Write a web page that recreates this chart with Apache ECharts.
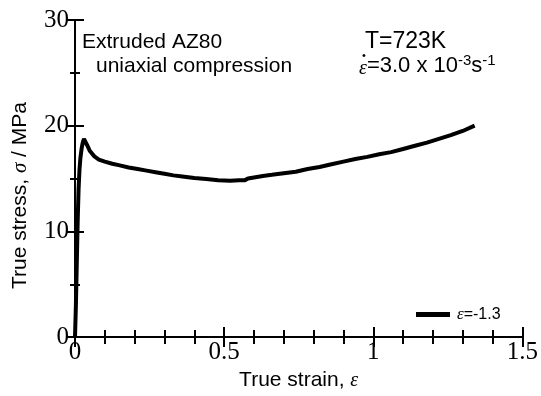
<!DOCTYPE html>
<html>
<head>
<meta charset="utf-8">
<script src="https://cdn.jsdelivr.net/npm/echarts@6/dist/echarts.min.js"></script>
<style>
  html, body { margin: 0; padding: 0; background: #fff; }
  #chart { width: 541px; height: 396px; }
</style>
</head>
<body>
<div id="chart"></div>
<script>
// true strain / true stress (MPa)
const strain = [0, 0.003, 0.006, 0.009, 0.012, 0.015, 0.018, 0.022, 0.026, 0.03, 0.035, 0.04, 0.05, 0.065, 0.08,
  0.1, 0.125, 0.15, 0.18, 0.21, 0.24, 0.27, 0.3, 0.33, 0.36, 0.4, 0.44, 0.48, 0.52, 0.55, 0.57, 0.58, 0.6,
  0.63, 0.66, 0.7, 0.74, 0.78, 0.82, 0.86, 0.9, 0.94, 0.98, 1.02, 1.06, 1.1, 1.14, 1.18, 1.22, 1.26, 1.3, 1.34];
const stress = [0, 3, 7, 11, 14, 15.8, 16.9, 17.8, 18.4, 18.75, 18.6, 18.2, 17.6, 17.1, 16.8,
  16.6, 16.4, 16.25, 16.05, 15.9, 15.75, 15.6, 15.45, 15.3, 15.2, 15.05, 14.95, 14.85, 14.8, 14.85, 14.85, 15.0, 15.1,
  15.25, 15.35, 15.5, 15.65, 15.9, 16.1, 16.35, 16.6, 16.85, 17.05, 17.3, 17.5, 17.8, 18.1, 18.4, 18.75, 19.1, 19.5, 20.0];
const seriesName = 'ε=-1.3';

const sans = 'Liberation Sans, Arial, sans-serif';
const serif = 'Liberation Serif, Times New Roman, serif';

const chart = echarts.init(document.getElementById('chart'));

const tickLabel = { fontFamily: serif, fontSize: 25, color: '#000' };
const axisLine = { lineStyle: { color: '#000', width: 2 } };

chart.setOption({
  animation: false,
  grid: { left: 75, right: 16, top: 20, bottom: 54 },
  legend: {
    left: 411,
    top: 301,
    icon: 'rect',
    itemWidth: 34,
    itemHeight: 5,
    itemGap: 4,
    data: [seriesName],
    formatter: () => '{e|ε}=-1.3',
    itemStyle: { color: '#000' },
    textStyle: {
      fontFamily: sans, fontSize: 16, color: '#000', padding: [0, 0, 0, 2],
      rich: { e: { fontFamily: serif, fontStyle: 'italic', fontSize: 17 } }
    }
  },
  xAxis: [
    {
      type: 'value', min: 0, max: 1.5, interval: 0.5,
      axisLine, splitLine: { show: false },
      axisTick: { inside: true, length: 10, lineStyle: { width: 2 } },
      minorTick: { show: true, splitNumber: 5, length: 7, lineStyle: { color: '#000', width: 2 } },
      axisLabel: { ...tickLabel, margin: 3 },
      name: 'True strain, {e|ε}',
      nameLocation: 'middle',
      nameGap: 31,
      nameTextStyle: {
        fontFamily: sans, fontSize: 21, color: '#000',
        rich: { e: { fontFamily: serif, fontStyle: 'italic', fontSize: 20 } }
      }
    },
    {
      type: 'value', position: 'top', min: 0, max: 1.5, interval: 0.5,
      axisLine, splitLine: { show: false },
      axisTick: { inside: true, length: 10, lineStyle: { width: 2 } },
      minorTick: { show: true, splitNumber: 5, length: 7, lineStyle: { color: '#000', width: 2 } },
      axisLabel: { show: false }
    }
  ],
  yAxis: [
    {
      type: 'value', min: 0, max: 30, interval: 10,
      axisLine, splitLine: { show: false },
      axisTick: { inside: true, length: 9, lineStyle: { width: 2 } },
      minorTick: { show: true, splitNumber: 2, length: 5, lineStyle: { color: '#000', width: 2 } },
      axisLabel: { ...tickLabel, margin: 6 },
      name: 'True stress, {s|σ} / MPa',
      nameLocation: 'middle',
      nameGap: 44,
      nameTextStyle: {
        fontFamily: sans, fontSize: 21, color: '#000', padding: [0, 34, 0, 0],
        rich: { s: { fontFamily: serif, fontStyle: 'italic', fontSize: 21 } }
      }
    },
    {
      type: 'value', position: 'right', min: 0, max: 30, interval: 10,
      axisLine, splitLine: { show: false },
      axisTick: { inside: true, length: 9, lineStyle: { width: 2 } },
      minorTick: { show: true, splitNumber: 2, length: 5, lineStyle: { color: '#000', width: 2 } },
      axisLabel: { show: false }
    }
  ],
  series: [
    {
      name: seriesName,
      type: 'line',
      data: strain.map((x, i) => [x, stress[i]]),
      showSymbol: false,
      symbol: 'none',
      lineStyle: { color: '#000', width: 4 },
      itemStyle: { color: '#000' }
    }
  ],
  graphic: [
    {
      type: 'text', left: 82, top: 32,
      style: { text: 'Extruded AZ80', fontFamily: sans, fontSize: 21, fill: '#000' }
    },
    {
      type: 'text', left: 96, top: 56,
      style: { text: 'uniaxial compression', fontFamily: sans, fontSize: 21, fill: '#000' }
    },
    {
      type: 'text', left: 365, top: 30,
      style: { text: 'T=723K', fontFamily: sans, fontSize: 23, fill: '#000' }
    },
    {
      // dot over the strain-rate epsilon
      type: 'text', left: 362, top: 50,
      style: { text: '•', fontFamily: sans, fontSize: 11, fill: '#000' }
    },
    {
      type: 'text', left: 359, top: 53,
      style: {
        text: '{e|ε}=3.0 x 10{sup|-3}s{sup|-1}',
        fontFamily: sans, fontSize: 22, fill: '#000',
        rich: {
          e: { fontFamily: serif, fontStyle: 'italic', fontSize: 20, verticalAlign: 'bottom', lineHeight: 26 },
          sup: { fontFamily: sans, fontSize: 15, verticalAlign: 'top', lineHeight: 15 }
        }
      }
    }
  ]
});
</script>
</body>
</html>
